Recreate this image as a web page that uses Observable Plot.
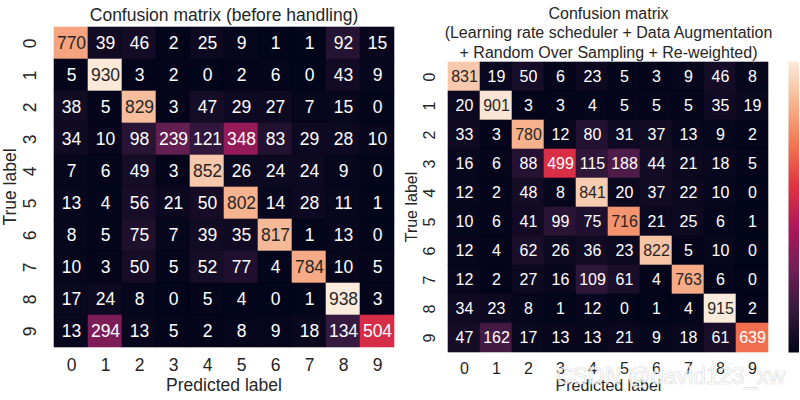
<!DOCTYPE html>
<html><head><meta charset="utf-8">
<script src="https://cdn.jsdelivr.net/npm/d3@7"></script>
<script src="https://cdn.jsdelivr.net/npm/@observablehq/plot@0.6"></script>
<style>
html,body{margin:0;padding:0;background:#fff;}
#wrap{position:relative;width:800px;height:400px;overflow:hidden;background:#fff;}
#wrap > div, #wrap > svg {position:absolute;top:0;}
</style></head><body><div id="wrap"></div>
<script>
const labels = ["0","1","2","3","4","5","6","7","8","9"];
const titleBefore = "Confusion matrix (before handling)";
const titleAfter = "Confusion matrix\n(Learning rate scheduler + Data Augmentation\n+ Random Over Sampling + Re-weighted)";
const xLabel = "Predicted label";
const yLabel = "True label";
const watermark = "CSDN @david123_xw";

const before = [
  [770,39,46,2,25,9,1,1,92,15],
  [5,930,3,2,0,2,6,0,43,9],
  [38,5,829,3,47,29,27,7,15,0],
  [34,10,98,239,121,348,83,29,28,10],
  [7,6,49,3,852,26,24,24,9,0],
  [13,4,56,21,50,802,14,28,11,1],
  [8,5,75,7,39,35,817,1,13,0],
  [10,3,50,5,52,77,4,784,10,5],
  [17,24,8,0,5,4,0,1,938,3],
  [13,294,13,5,2,8,9,18,134,504]
];
const after = [
  [831,19,50,6,23,5,3,9,46,8],
  [20,901,3,3,4,5,5,5,35,19],
  [33,3,780,12,80,31,37,13,9,2],
  [16,6,88,499,115,188,44,21,18,5],
  [12,2,48,8,841,20,37,22,10,0],
  [10,6,41,99,75,716,21,25,6,1],
  [12,4,62,26,36,23,822,5,10,0],
  [12,2,27,16,109,61,4,763,6,0],
  [34,23,8,1,12,0,1,4,915,2],
  [47,162,17,13,13,21,9,18,61,639]
];

// seaborn "rocket" colormap, approximated
const rocketStops = [0, 1/7, 2/7, 3/7, 4/7, 5/7, 6/7, 1];
const rocketColors = ["#03051a","#35193e","#701f57","#ad1759","#e13342","#f37651","#f6b48f","#faebdd"];
const rocketScale = d3.scaleLinear().domain(rocketStops).range(rocketColors).interpolate(d3.interpolateRgb).clamp(true);
const rocket = t => rocketScale(t);

function lum(c) {
  const r = d3.rgb(c);
  const f = v => { v /= 255; return v <= 0.03928 ? v / 12.92 : Math.pow((v + 0.055) / 1.055, 2.4); };
  return 0.2126 * f(r.r) + 0.7152 * f(r.g) + 0.0722 * f(r.b);
}

const font = "'Liberation Sans', Arial, Helvetica, sans-serif";
const dark = "#262626";

function toTable(m) {
  const out = [];
  m.forEach((row, i) => row.forEach((v, j) => out.push({t: labels[i], p: labels[j], value: v})));
  return out;
}

function heatmap(m, o) {
  const table = toTable(m);
  const max = d3.max(table, d => d.value);
  const isLight = d => lum(rocket(d.value / max)) > 0.408;
  return Plot.plot({
    width: 400, height: 400,
    marginLeft: o.ml, marginRight: o.mr, marginTop: o.mt, marginBottom: o.mb,
    style: {fontFamily: font, fontSize: o.fs + "px", color: dark, background: "transparent", overflow: "visible"},
    x: {domain: labels, padding: 0},
    y: {domain: labels, padding: 0},
    color: {type: "linear", domain: [0, max], interpolate: rocket},
    marks: [
      Plot.cell(table, {x: "p", y: "t", fill: "value", stroke: "value", strokeWidth: 0.6, inset: 0}),
      Plot.text(table, {x: "p", y: "t", text: d => String(d.value), filter: isLight, fill: dark, fontSize: o.fs}),
      Plot.text(table, {x: "p", y: "t", text: d => String(d.value), filter: d => !isLight(d), fill: "white", fontSize: o.fs}),
      Plot.axisX({tickSize: 0, tickPadding: o.xpad, fontSize: o.fs, label: xLabel, labelAnchor: "center", labelOffset: o.xlo}),
      Plot.axisY({tickSize: 0, tickPadding: o.ypad, tickRotate: -90, fontSize: o.fs, label: yLabel, labelAnchor: "center", labelOffset: o.ylo}),
      Plot.text([o.title], {frameAnchor: "top", dy: o.tdy, lineAnchor: "middle", lineHeight: 1.22, text: d => d, fill: dark, fontSize: o.fs}),
      ...(o.extra || [])
    ]
  });
}

const wrap = document.getElementById("wrap");

const left = heatmap(before, {ml: 49, mr: 2, mt: 26, mb: 53, fs: 17.5, xpad: 11, xlo: 43, ypad: 14, ylo: 46, title: titleBefore, tdy: -12.5});
left.style.left = "0px";
wrap.appendChild(left);

const right = heatmap(after, {ml: 48, mr: 32, mt: 61, mb: 48, fs: 16, xpad: 10, xlo: 38, ypad: 14, ylo: 43, title: titleAfter, tdy: -29.5,
  extra: [Plot.text([watermark], {frameAnchor: "bottom", dx: 62, dy: 24, lineAnchor: "middle", text: d => d, fontSize: 23, fill: "white", fillOpacity: 0.6, stroke: "#cfcfcf", strokeWidth: 0.7})]});
right.style.left = "400px";
wrap.appendChild(right);

const maxAfter = d3.max(after.flat());
const bar = Plot.plot({
  width: 11, height: 400,
  marginLeft: 0, marginRight: 0, marginTop: 61, marginBottom: 48,
  style: {background: "transparent"},
  x: {domain: [0, 1], axis: null},
  y: {domain: [0, maxAfter], axis: null},
  color: {type: "linear", domain: [0, maxAfter], interpolate: rocket},
  marks: [Plot.raster({x1: 0, x2: 1, y1: 0, y2: maxAfter, fill: (x, y) => y})]
});
bar.style.left = "788px";
wrap.appendChild(bar);
</script></body></html>
